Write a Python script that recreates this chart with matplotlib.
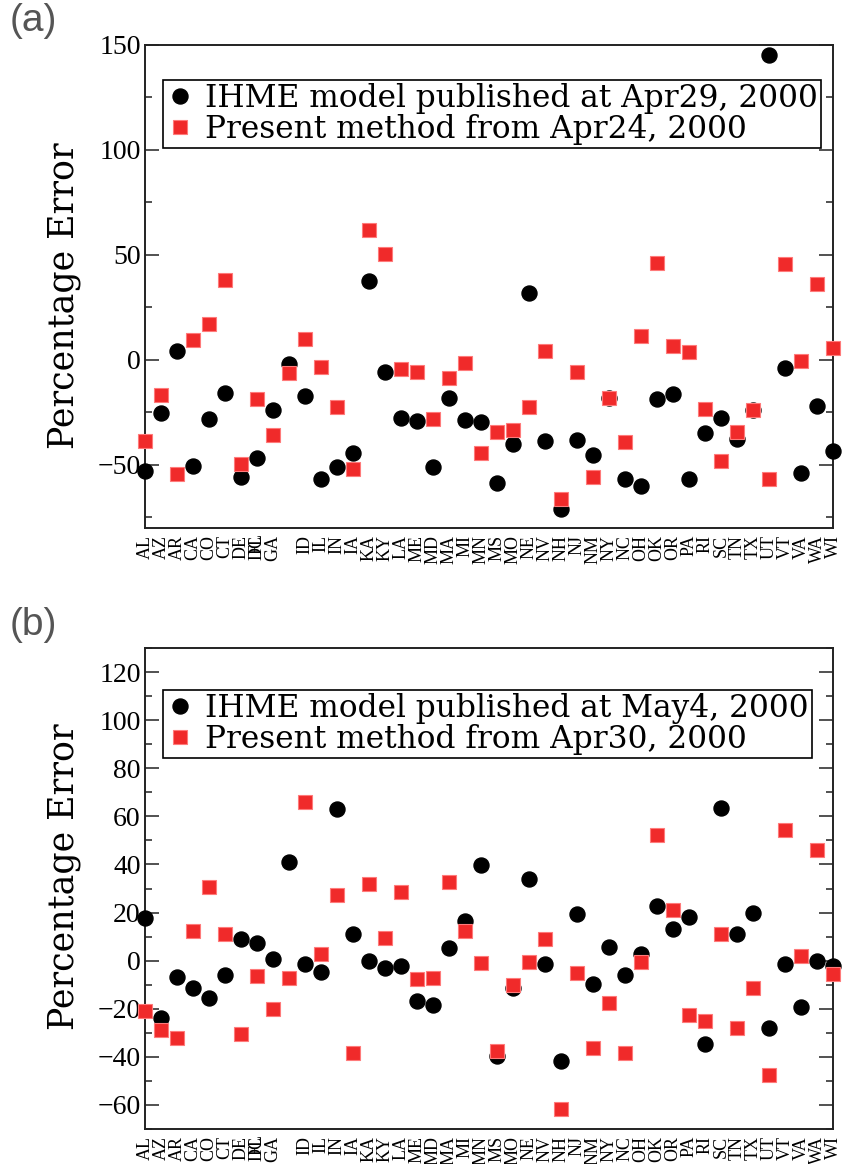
import matplotlib
matplotlib.use('Agg')
import matplotlib.pyplot as plt
from matplotlib.lines import Line2D

# ---------------- data ----------------
state_labels = ['AL', 'AZ', 'AR', 'CA', 'CO', 'CT', 'DE', 'DC', 'GA', '',
                'ID', 'IL', 'IN', 'IA', 'KA', 'KY', 'LA', 'ME', 'MD', 'MA',
                'MI', 'MN', 'MS', 'MO', 'NE', 'NV', 'NH', 'NJ', 'NM', 'NY',
                'NC', 'OH', 'OK', 'OR', 'PA', 'RI', 'SC', 'TN', 'TX', 'UT',
                'VT', 'VA', 'WA', 'WI']
overlay_label = 'FL'
overlay_pos = 7
x_index = list(range(len(state_labels)))

ihme_a = [-53, -25.2, 4.5, -50.4, -27.9, -15.9, -55.8, -46.7, -23.6, -2.1,
          -17, -56.9, -51, -44.3, 37.8, -5.6, -27.4, -29, -51, -18,
          -28.4, -29.3, -58.5, -40.2, 31.9, -38.6, -70.9, -37.9, -45.1, -18.3,
          -56.6, -60.2, -18.8, -16.4, -56.6, -34.7, -27.4, -37.4, -23.6, 145,
          -3.7, -53.7, -22, -43.3]
present_a = [-38.6, -16.7, -54.2, 9.6, 17, 38.2, -49.4, -18.8, -35.7, -6.1,
             9.9, -3.5, -22.3, -52, 62, 50.7, -4.5, -5.6, -27.9, -8.8,
             -1.6, -44.3, -34.3, -33.5, -22.3, 4.5, -66.1, -5.6, -55.8, -18.3,
             -39, 11.2, 46.2, 6.7, 4, -23.4, -48.1, -34.3, -23.9, -56.6,
             45.7, -0.5, 36.2, 5.9]

ihme_b = [17.8, -23.7, -6.8, -11.2, -15.4, -6, 8.8, 7.5, 0.5, 41.2,
          -1.2, -4.6, 63, 10.9, 0, -3.2, -2.2, -16.8, -18.5, 5.2,
          16.4, 39.8, -39.6, -11.2, 34.1, -1.3, -41.7, 19.6, -9.6, 5.7,
          -6, 2.6, 22.7, 13.3, 18.1, -34.5, 63.5, 10.9, 19.9, -28.2,
          -1.5, -19.3, -0.2, -2.2]
present_b = [-20.9, -28.8, -32.2, 12.3, 30.5, 10.9, -30.3, -6.4, -19.9, -7.3,
             65.8, 2.9, 27.1, -38.2, 32, 9.3, 28.5, -7.8, -7.1, 32.8,
             12.3, -1.1, -37.5, -10.2, -0.6, 8.8, -61.5, -5, -36.5, -17.7,
             -38.6, -0.6, 52.1, 20.9, -22.7, -25.3, 11.2, -28.1, -11.2, -47.6,
             54.5, 1.9, 46.2, -5.7]

legend_a = ['IHME model published at Apr29, 2000', 'Present method from Apr24, 2000']
legend_b = ['IHME model published at May4, 2000', 'Present method from Apr30, 2000']

# ---------------- style ----------------
serif = ['Liberation Serif', 'DejaVu Serif']
wide_serif = ['DejaVu Serif', 'Liberation Serif']
plt.rcParams['font.family'] = serif

W, H = 843, 1164
fig = plt.figure(figsize=(W / 100, H / 100), dpi=100)

def px_axes(left, top, right, bottom):
    return fig.add_axes([left / W, 1 - bottom / H, (right - left) / W, (bottom - top) / H])

ax_a = px_axes(145, 45, 833, 528)
ax_b = px_axes(145, 648, 833, 1129)

red_face = '#f02a2a'
red_edge = '#ff7a7a'

def draw(ax, ihme, present, ylim, major, minor, labels, leg_top, ylab_y):
    ax.plot(x_index, ihme, linestyle='none', marker='o', markersize=10.8,
            color='black', markeredgecolor='black', zorder=3, clip_on=False)
    ax.plot(x_index, present, linestyle='none', marker='s', markersize=9.5,
            markerfacecolor=red_face, markeredgecolor=red_edge, markeredgewidth=0.8,
            zorder=4, clip_on=False)
    ax.set_xlim(0, len(state_labels) - 1)
    ax.set_ylim(*ylim)
    for s in ax.spines.values():
        s.set_linewidth(1.4)
        s.set_color('#222222')
    tick_pos = [i for i in x_index[1:-1] if state_labels[i] != '']
    ax.set_xticks(tick_pos, minor=True)
    lab_pos = [i for i in x_index if state_labels[i] != '']
    ax.set_xticks(lab_pos)
    ax.set_xticklabels([state_labels[i] for i in lab_pos], rotation=90,
                       fontsize=13, va='top', ha='center')
    ax.tick_params(axis='x', which='major', length=0, pad=5)
    ax.tick_params(axis='x', which='minor', direction='in', length=9.5, width=1.1,
                   top=True, bottom=True, color='#222222')
    ax.text(overlay_pos, -0.0105, overlay_label, transform=ax.get_xaxis_transform(),
            rotation=90, fontsize=13, ha='center', va='top')
    ax.yaxis.set_major_locator(plt.MultipleLocator(major))
    ax.yaxis.set_minor_locator(plt.MultipleLocator(minor))
    ax.tick_params(axis='y', which='major', direction='in', length=10, width=1.1,
                   left=True, right=True, labelsize=20, pad=3, color='#222222')
    ax.tick_params(axis='y', which='minor', direction='in', length=5, width=1.1,
                   left=True, right=True, color='#222222')
    ax.set_ylabel('Percentage Error', fontsize=25, family=wide_serif)
    ax.yaxis.set_label_coords(-64 / 688, ylab_y)
    handles = [Line2D([], [], linestyle='none', marker='o', markersize=10.8, color='black'),
               Line2D([], [], linestyle='none', marker='s', markersize=9.5,
                      markerfacecolor=red_face, markeredgecolor=red_edge, markeredgewidth=0.8)]
    leg = ax.legend(handles, labels, loc='upper left', bbox_to_anchor=(0.026, leg_top),
                    prop={'family': wide_serif, 'size': 22.5},
                    frameon=True, fancybox=False, framealpha=1,
                    edgecolor='black', borderpad=0.1, handletextpad=0.35,
                    handlelength=0.9, labelspacing=0.0, borderaxespad=0)
    leg.get_frame().set_linewidth(1.2)

draw(ax_a, ihme_a, present_a, (-80, 150), 50, 25, legend_a, 0.9275, 0.48)
draw(ax_b, ihme_b, present_b, (-70, 130), 20, 10, legend_b, 0.9127, 0.524)

fig.text(10 / W, 1 - 3 / H, '(a)', fontsize=28, color='#555555', va='top',
         family=['Liberation Sans', 'DejaVu Sans'])
fig.text(10 / W, 1 - 607 / H, '(b)', fontsize=28, color='#555555', va='top',
         family=['Liberation Sans', 'DejaVu Sans'])

fig.savefig('out.png', dpi=100)
